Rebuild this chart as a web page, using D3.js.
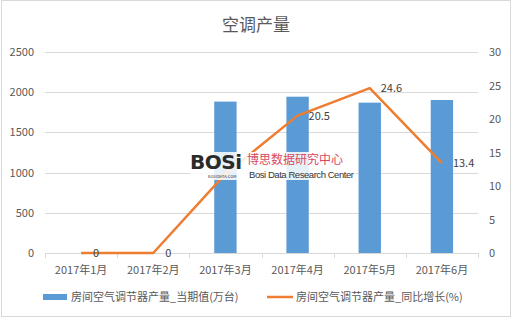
<!DOCTYPE html>
<html>
<head>
<meta charset="utf-8">
<script src="https://cdn.jsdelivr.net/npm/d3@7"></script>
<style>
  body { margin: 0; background: #fff; }
  text { font-family: "Microsoft YaHei", "Noto Sans CJK SC", sans-serif; }
</style>
</head>
<body>
<script>
// chart data
var months = ['2017年1月', '2017年2月', '2017年3月', '2017年4月', '2017年5月', '2017年6月'];
var output = [null, null, 1883, 1944, 1870, 1903];      // 当期值(万台)
var growth = [0, 0, 11.8, 20.5, 24.6, 13.4];            // 同比增长(%)
var growthLabels = ['0', '0', '', '20.5', '24.6', '13.4'];
var leftTicks = [0, 500, 1000, 1500, 2000, 2500];
var rightTicks = [0, 5, 10, 15, 20, 25, 30];

var width = 512, height = 319;
var margin = {top: 52, left: 45, right: 34, bottom: 66};

var svg = d3.select('body')
    .append('svg')
    .attr('width', width)
    .attr('height', height);

// outer border
svg.append('rect')
    .attr('x', 1.5).attr('y', 0.5)
    .attr('width', width - 3).attr('height', height - 3)
    .style('fill', '#fff')
    .style('stroke', '#d9d9d9');

// title
svg.append('text')
    .attr('x', 256).attr('y', 31)
    .attr('text-anchor', 'middle')
    .style('font-size', '17px')
    .style('fill', '#595959')
    .text('空调产量');

var x = d3.scaleBand()
    .domain(months)
    .range([margin.left, width - margin.right]);

var yL = d3.scaleLinear()
    .domain([0, 2500])
    .range([height - margin.bottom, margin.top]);

var yR = d3.scaleLinear()
    .domain([0, 30])
    .range([height - margin.bottom, margin.top]);

// gridlines
svg.selectAll('.grid')
    .data(leftTicks)
    .enter()
    .append('line')
    .attr('class', 'grid')
    .attr('x1', margin.left).attr('x2', width - margin.right)
    .attr('y1', function(d) { return Math.round(yL(d)) + 0.5; })
    .attr('y2', function(d) { return Math.round(yL(d)) + 0.5; })
    .style('stroke', '#d9d9d9');

// left axis labels
svg.selectAll('.lbl')
    .data(leftTicks)
    .enter()
    .append('text')
    .attr('class', 'lbl')
    .attr('x', 34)
    .attr('y', function(d) { return yL(d) + 4; })
    .attr('text-anchor', 'end')
    .style('font-size', '11px')
    .style('fill', '#595959')
    .text(function(d) { return d; });

// right axis labels
svg.selectAll('.rlbl')
    .data(rightTicks)
    .enter()
    .append('text')
    .attr('class', 'rlbl')
    .attr('x', 489)
    .attr('y', function(d) { return yR(d) + 4; })
    .style('font-size', '11px')
    .style('fill', '#595959')
    .text(function(d) { return d; });

// x axis ticks at category boundaries
var bounds = months.map(function(m) { return x(m); }).concat([x.range()[1]]);
svg.selectAll('.xtick')
    .data(bounds)
    .enter()
    .append('line')
    .attr('class', 'xtick')
    .attr('x1', function(d) { return Math.round(d) + 0.5; })
    .attr('x2', function(d) { return Math.round(d) + 0.5; })
    .attr('y1', yL(0)).attr('y2', yL(0) + 5)
    .style('stroke', '#d9d9d9');

// x labels
svg.selectAll('.xlbl')
    .data(months)
    .enter()
    .append('text')
    .attr('class', 'xlbl')
    .attr('x', function(d) { return x(d) + x.bandwidth() / 2; })
    .attr('y', 274)
    .attr('text-anchor', 'middle')
    .style('font-size', '11px')
    .style('fill', '#595959')
    .text(function(d) { return d; });

// bars
var barW = x.bandwidth() * 0.31;
svg.selectAll('.bar')
    .data(months.filter(function(m, i) { return output[i] != null; }))
    .enter()
    .append('rect')
    .attr('class', 'bar')
    .attr('x', function(d) { return x(d) + x.bandwidth() / 2 - barW / 2; })
    .attr('y', function(d) { return yL(output[months.indexOf(d)]); })
    .attr('width', barW)
    .attr('height', function(d) { return yL(0) - yL(output[months.indexOf(d)]); })
    .style('fill', '#5b9bd5');

// growth line
var line = d3.line()
    .x(function(d, i) { return x(months[i]) + x.bandwidth() / 2; })
    .y(function(d) { return yR(d); });

svg.append('path')
    .datum(growth)
    .attr('d', line)
    .style('fill', 'none')
    .style('stroke', '#ed7d31')
    .style('stroke-width', 2.5)
    .style('stroke-linejoin', 'round');

// line labels
svg.selectAll('.vlbl')
    .data(growth)
    .enter()
    .append('text')
    .attr('class', 'vlbl')
    .attr('x', function(d, i) { return x(months[i]) + x.bandwidth() / 2 + (d === 0 ? 15 : 11); })
    .attr('y', function(d) { return yR(d) + 4; })
    .attr('text-anchor', function(d) { return d === 0 ? 'middle' : 'start'; })
    .style('font-size', '11px')
    .style('fill', '#404040')
    .text(function(d, i) { return growthLabels[i]; });

// watermark
var wm = svg.append('g').attr('transform', 'translate(190,152)');
wm.append('rect')
    .attr('x', 0).attr('y', 0).attr('width', 166).attr('height', 28)
    .style('fill', '#fff').style('opacity', 0.85);
wm.append('text')
    .attr('x', 0).attr('y', 17)
    .style('font-family', '"DejaVu Sans", sans-serif')
    .style('font-weight', 'bold')
    .style('font-size', '20px')
    .style('fill', '#2b2b2b')
    .attr('textLength', 52)
    .text('BOSi');
wm.append('text')
    .attr('x', 18).attr('y', 26)
    .style('font-size', '4px')
    .style('fill', '#333')
    .text('BOSIDATA.COM');
wm.append('text')
    .attr('x', 57).attr('y', 12)
    .style('font-size', '12px')
    .style('fill', '#d9485f')
    .text('博思数据研究中心');
wm.append('text')
    .attr('x', 59).attr('y', 26)
    .style('font-family', '"Liberation Sans Narrow", "Liberation Sans", sans-serif')
    .style('font-size', '9.5px')
    .style('fill', '#333')
    .attr('textLength', 105)
    .text('Bosi Data Research Center');

// legend
var legend = svg.append('g');
legend.append('rect')
    .attr('x', 43).attr('y', 294).attr('width', 24).attr('height', 6)
    .style('fill', '#5b9bd5');
legend.append('text')
    .attr('x', 71).attr('y', 301)
    .style('font-size', '11px')
    .style('fill', '#595959')
    .text('房间空气调节器产量_当期值(万台)');
legend.append('line')
    .attr('x1', 267).attr('x2', 293).attr('y1', 297).attr('y2', 297)
    .style('stroke', '#ed7d31')
    .style('stroke-width', 2.5);
legend.append('text')
    .attr('x', 296).attr('y', 301)
    .style('font-size', '11px')
    .style('fill', '#595959')
    .text('房间空气调节器产量_同比增长(%)');
</script>
</body>
</html>
